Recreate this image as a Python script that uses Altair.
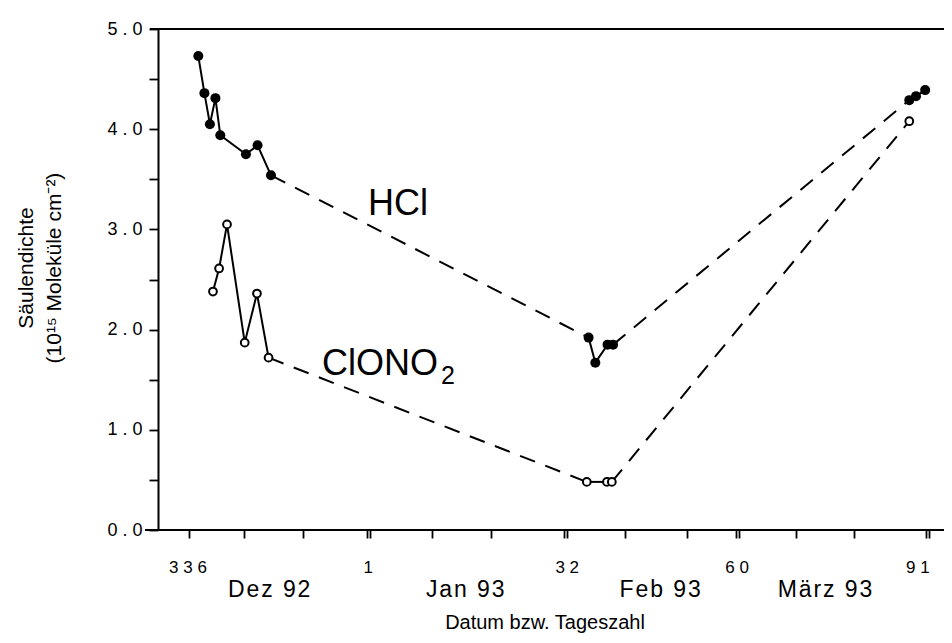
import altair as alt
import pandas as pd

# ---- data (day numbers on a continuous scale: 367 = 1 Jan 93) ----
hcl_day = [337.6, 338.6, 339.5, 340.4, 341.2, 345.4, 347.3, 349.5,
           401.5, 402.6, 404.6, 405.5,
           454.0, 455.1, 456.6]
hcl_val = [4.73, 4.36, 4.05, 4.31, 3.94, 3.75, 3.84, 3.54,
           1.92, 1.67, 1.85, 1.85,
           4.29, 4.33, 4.39]
hcl_campaign = ["Dez"] * 8 + ["Feb"] * 4 + ["Mar"] * 3

clono2_day = [340.0, 341.0, 342.3, 345.2, 347.2, 349.1,
              401.2, 404.5, 405.3,
              454.0]
clono2_val = [2.38, 2.61, 3.05, 1.87, 2.36, 1.72,
              0.48, 0.48, 0.48,
              4.08]
clono2_campaign = ["Dez"] * 6 + ["Feb"] * 3 + ["Mar"] * 1

# axis ticks (double ticks at month starts) and labels
tick_days = [336, 345, 354.7, 365.2, 365.7, 375.8, 385.6, 397.4, 397.9,
             407.4, 417.6, 425.6, 426.1, 435.4, 444.9, 456.7, 457.2]
daynum_pos = [335.9, 365.4, 398.0, 425.8, 455.4]
daynum_text = ["336", "1", "32", "60", "91"]
month_pos = [349.2, 381.3, 413.2, 440.2]
month_text = ["Dez 92", "Jan 93", "Feb 93", "März 93"]
y_ticks = [0, 0.5, 1, 1.5, 2, 2.5, 3, 3.5, 4, 4.5, 5]

FONT = "Liberation Sans"
W, H = 786, 501
PX_PER_DAY = 6.108
X0 = 331

# ---- build tables ----
def frame(days, vals, camp, species):
    return pd.DataFrame({"day": days, "value": vals, "campaign": camp,
                         "species": species,
                         "grp": [species + "-" + c for c in camp]})

hcl = frame(hcl_day, hcl_val, hcl_campaign, "HCl")
clo = frame(clono2_day, clono2_val, clono2_campaign, "ClONO2")
allpts = pd.concat([hcl, clo], ignore_index=True)

links = []
for sp, df in [("HCl", hcl), ("ClONO2", clo)]:
    camps = list(dict.fromkeys(df["campaign"]))
    for a, b in zip(camps[:-1], camps[1:]):
        last = df[df["campaign"] == a].iloc[-1]
        first = df[df["campaign"] == b].iloc[0]
        lid = sp + a + b
        links.append({"day": last["day"], "value": last["value"], "link": lid})
        links.append({"day": first["day"], "value": first["value"], "link": lid})
dash = pd.DataFrame(links)

daynums = pd.DataFrame({"day": daynum_pos,
                        "txt": [" ".join(list(t)) for t in daynum_text]})
months = pd.DataFrame({"day": month_pos,
                       "txt": ["\u200a".join(list(t)) for t in month_text]})
one = pd.DataFrame({"k": [0]})

xscale = alt.Scale(domain=[X0, X0 + W / PX_PER_DAY], nice=False, zero=False)
yscale = alt.Scale(domain=[0, 5], nice=False)

xaxis = alt.Axis(values=tick_days, labels=False, domain=False, grid=False,
                 ticks=True, tickSize=8, tickWidth=1.8, tickColor="black",
                 title=None)
yaxis = alt.Axis(values=y_ticks, grid=False, title=None,
                 domain=True, domainWidth=2, domainColor="black",
                 tickSize=9, tickWidth=1.8, tickColor="black",
                 labelExpr="datum.value % 1 == 0 ? join(split(format(datum.value, '.1f'), ''), ' ') : ''",
                 labelFont=FONT, labelFontSize=18, labelColor="black",
                 labelPadding=7)

X = alt.X("day:Q", scale=xscale, axis=xaxis)
Y = alt.Y("value:Q", scale=yscale, axis=yaxis)

frame_lines = alt.Chart(one).mark_rule(color="black", strokeWidth=2).encode(
    x=alt.value(-8), x2=alt.value(W), y=alt.value(0))
bottom_line = alt.Chart(one).mark_rule(color="black", strokeWidth=2).encode(
    x=alt.value(-13), x2=alt.value(W), y=alt.value(H))

solid = alt.Chart(allpts).mark_line(color="black", strokeWidth=2).encode(
    x=X, y=Y, detail="grp:N", order="day:Q")
dashed = alt.Chart(dash).mark_line(color="black", strokeWidth=2,
                                   strokeDash=[16, 11]).encode(
    x=X, y=Y, detail="link:N", order="day:Q")

hcl_pts = alt.Chart(hcl).mark_point(shape="circle", filled=True, color="black",
                                    size=100, opacity=1).encode(x=X, y=Y)
clo_pts = alt.Chart(clo).mark_point(shape="circle", filled=True, fill="white",
                                    stroke="black", strokeWidth=2,
                                    size=60, opacity=1).encode(x=X, y=Y)

num_labels = alt.Chart(daynums).mark_text(font=FONT, fontSize=17, color="black",
                                          align="center", baseline="alphabetic").encode(
    x=alt.X("day:Q", scale=xscale, axis=xaxis), y=alt.value(544), text="txt:N")
month_labels = alt.Chart(months).mark_text(font=FONT, fontSize=23, color="black",
                                           align="center", baseline="alphabetic").encode(
    x=alt.X("day:Q", scale=xscale, axis=xaxis), y=alt.value(568), text="txt:N")

def label(txt, x, y, size, angle=0, align="center"):
    kw = dict(font=FONT, fontSize=size, color="black", align=align,
              baseline="alphabetic", text=txt)
    if angle:
        kw["angle"] = angle
    return alt.Chart(one).mark_text(**kw).encode(x=alt.value(x), y=alt.value(y))

xtitle = label("Datum bzw. Tageszahl", 387, 600, 20)
ytitle1 = label("Säulendichte", -125, 239, 21, angle=270)
ytitle2 = label("(10¹⁵ Moleküle cm⁻²)", -97, 239, 21, angle=270)
hcl_lab = label("HCl", 210, 186, 36, align="left")
clo_lab = label("ClONO", 164, 346, 36, align="left")
clo_sub = label("2", 283, 355, 25, align="left")

chart = alt.layer(
    frame_lines, bottom_line, dashed, solid, hcl_pts, clo_pts,
    num_labels, month_labels, xtitle, ytitle1, ytitle2, hcl_lab, clo_lab, clo_sub
).properties(
    width=W, height=H,
    autosize=alt.AutoSizeParams(type="none"),
    padding={"left": 150, "top": 21, "right": 0, "bottom": 104},
).configure_view(stroke=None).configure(background="white")

chart.save("out.html", embed_options={"renderer": "svg", "actions": False})
